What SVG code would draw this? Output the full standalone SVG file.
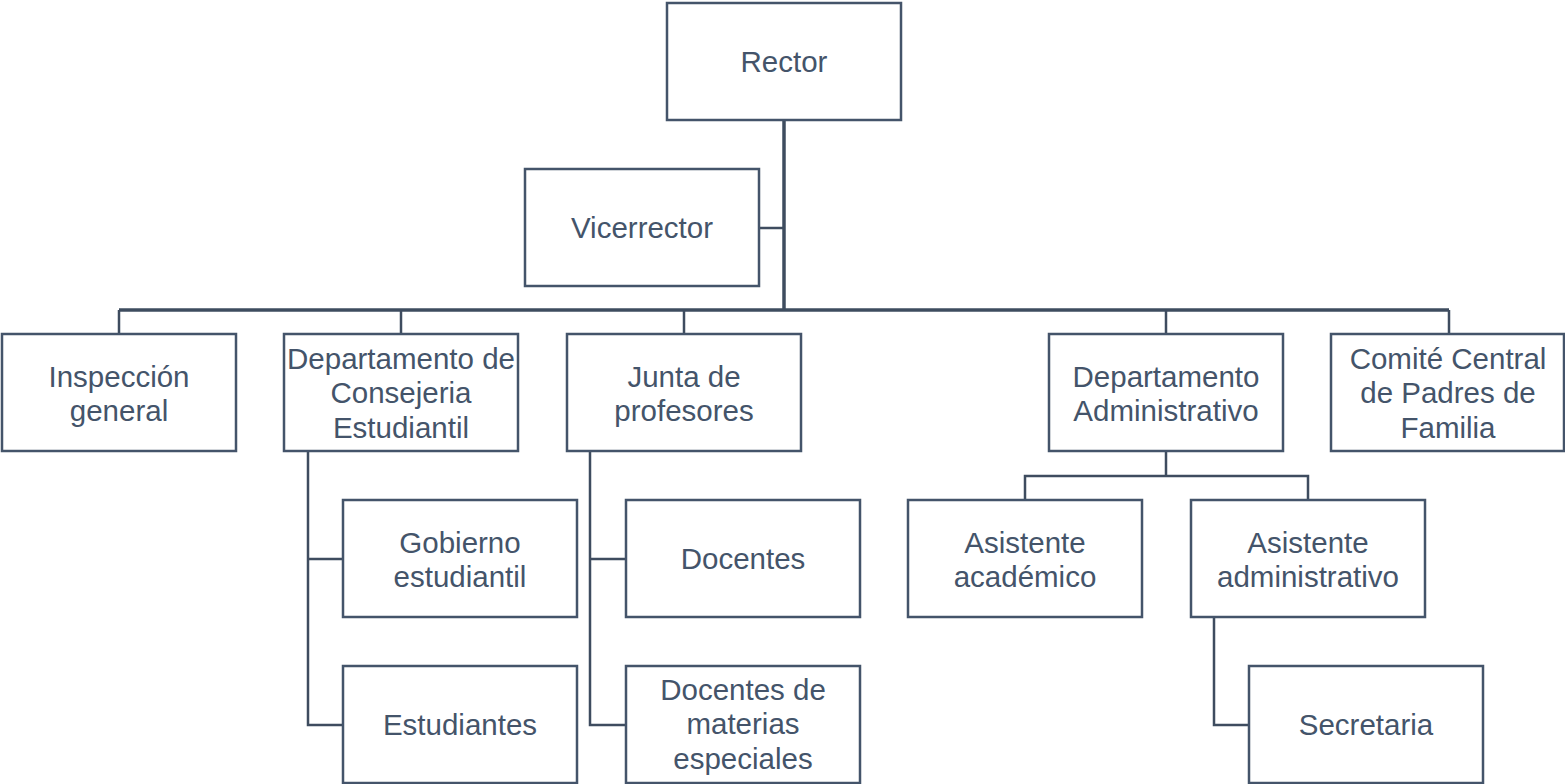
<svg xmlns="http://www.w3.org/2000/svg" width="1565" height="784" viewBox="0 0 1565 784">
<style>
.box{fill:#ffffff;stroke:#44546A;stroke-width:2.5}
.t{font-family:"Liberation Sans",Arial,sans-serif;font-size:29.5px;fill:#44546A;text-anchor:middle}
.c{fill:none;stroke:#3E4C5F;stroke-width:2.5;stroke-linejoin:miter}
.ct{fill:none;stroke:#3E4C5F;stroke-width:3.5}
</style>
<rect width="1565" height="784" fill="#ffffff"/>
<g id="connectors">
<path class="ct" d="M784 120V310"/>
<path class="ct" d="M119 310H1449"/>
<path class="c" d="M759 228H784"/>
<path class="c" d="M119 310V334M401 310V334M684 310V334M1166 310V334M1449 310V334"/>
<path class="c" d="M308 452V725H343M308 559H343"/>
<path class="c" d="M590 452V725H626M590 559H626"/>
<path class="c" d="M1166 452V476M1025 500V476H1308V500"/>
<path class="c" d="M1214 617V725H1249"/>
</g>
<g id="rector"><rect class="box" x="667" y="3" width="234" height="117"/><text class="t" x="784" y="71.5">Rector</text></g>
<g id="vicerrector"><rect class="box" x="525" y="169" width="234" height="117"/><text class="t" x="642" y="237.5">Vicerrector</text></g>
<g id="inspeccion"><rect class="box" x="2" y="334" width="234" height="117"/><text class="t" x="119" y="386.5">Inspección</text><text class="t" x="119" y="420.5">general</text></g>
<g id="consejeria"><rect class="box" x="284" y="334" width="234" height="117"/><text class="t" x="401" y="368.5">Departamento de</text><text class="t" x="401" y="403">Consejeria</text><text class="t" x="401" y="437.5">Estudiantil</text></g>
<g id="junta"><rect class="box" x="567" y="334" width="234" height="117"/><text class="t" x="684" y="386.5">Junta de</text><text class="t" x="684" y="420.5">profesores</text></g>
<g id="administrativo"><rect class="box" x="1049" y="334" width="234" height="117"/><text class="t" x="1166" y="386.5">Departamento</text><text class="t" x="1166" y="420.5">Administrativo</text></g>
<g id="comite"><rect class="box" x="1331" y="334" width="233" height="117"/><text class="t" x="1448" y="368.5">Comité Central</text><text class="t" x="1448" y="403">de Padres de</text><text class="t" x="1448" y="437.5">Familia</text></g>
<g id="gobierno"><rect class="box" x="343" y="500" width="234" height="117"/><text class="t" x="460" y="552.5">Gobierno</text><text class="t" x="460" y="586.5">estudiantil</text></g>
<g id="estudiantes"><rect class="box" x="343" y="666" width="234" height="117"/><text class="t" x="460" y="735">Estudiantes</text></g>
<g id="docentes"><rect class="box" x="626" y="500" width="234" height="117"/><text class="t" x="743" y="568.5">Docentes</text></g>
<g id="docentes-especiales"><rect class="box" x="626" y="666" width="234" height="117"/><text class="t" x="743" y="699.5">Docentes de</text><text class="t" x="743" y="734">materias</text><text class="t" x="743" y="768.5">especiales</text></g>
<g id="asistente-academico"><rect class="box" x="908" y="500" width="234" height="117"/><text class="t" x="1025" y="552.5">Asistente</text><text class="t" x="1025" y="586.5">académico</text></g>
<g id="asistente-administrativo"><rect class="box" x="1191" y="500" width="234" height="117"/><text class="t" x="1308" y="552.5">Asistente</text><text class="t" x="1308" y="586.5">administrativo</text></g>
<g id="secretaria"><rect class="box" x="1249" y="666" width="234" height="117"/><text class="t" x="1366" y="735">Secretaria</text></g>
</svg>
